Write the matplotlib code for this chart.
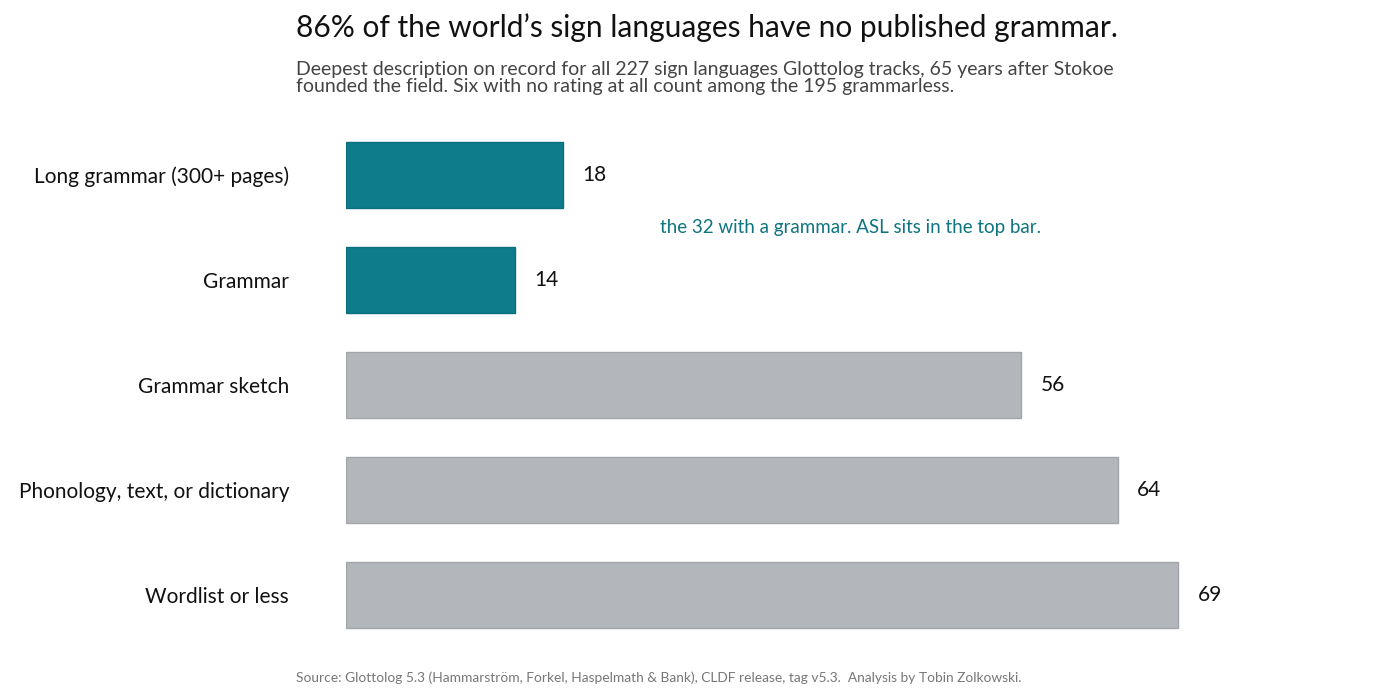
import matplotlib
matplotlib.use('Agg')
import matplotlib.pyplot as plt

categories = ['Long grammar (300+ pages)', 'Grammar', 'Grammar sketch',
              'Phonology, text, or dictionary', 'Wordlist or less']
counts = [18, 14, 56, 64, 69]
has_grammar = [True, True, False, False, False]

TEAL = '#0e7c8b'
GRAY = '#b3b6ba'

plt.rcParams['font.family'] = ['Lato', 'DejaVu Sans']

fig = plt.figure(figsize=(14, 7), dpi=100)
fig.patch.set_facecolor('white')
ax = fig.add_axes([346 / 1400, 0.075, (1300 - 346) / 1400, 0.75])

ypos = list(range(len(categories)))
colors = [TEAL if g else GRAY for g in has_grammar]
edges = ['#0a6f7d' if g else '#a2a5a9' for g in has_grammar]
ax.barh(ypos, counts, height=0.62, color=colors, edgecolor=edges, linewidth=1)

for y, v in zip(ypos, counts):
    ax.text(v + 1.6, y, str(v), va='center', ha='left', fontsize=15, color='#111111')

ax.set_ylim(len(categories) - 0.5, -0.5)
ax.set_xlim(0, 79.1)
ax.set_yticks(ypos)
ax.set_yticklabels(categories, fontsize=15, color='#111111')
ax.tick_params(axis='y', length=0, pad=41)
ax.set_xticks([])
for s in ax.spines.values():
    s.set_visible(False)

# annotation between the two teal bars
ax.text(26, 0.5, 'the 32 with a grammar. ASL sits in the top bar.',
        color='#0e7480', fontsize=13.5, va='center', ha='left')

fig.text(296 / 1400, 1 - 28 / 700, "86% of the world\u2019s sign languages have no published grammar.",
         fontsize=21.5, color='#111111', va='center', ha='left')
fig.text(296 / 1400, 1 - 78 / 700,
         'Deepest description on record for all 227 sign languages Glottolog tracks, 65 years after Stokoe\n'
         'founded the field. Six with no rating at all count among the 195 grammarless.',
         fontsize=14, color='#444444', va='center', ha='left', linespacing=1.0)
fig.text(296 / 1400, 1 - 678 / 700,
         'Source: Glottolog 5.3 (Hammarstr\u00f6m, Forkel, Haspelmath & Bank), CLDF release, tag v5.3.  '
         'Analysis by Tobin Zolkowski.',
         fontsize=9.9, color='#777777', va='center', ha='left')

fig.savefig('out.png', dpi=100, facecolor='white')
